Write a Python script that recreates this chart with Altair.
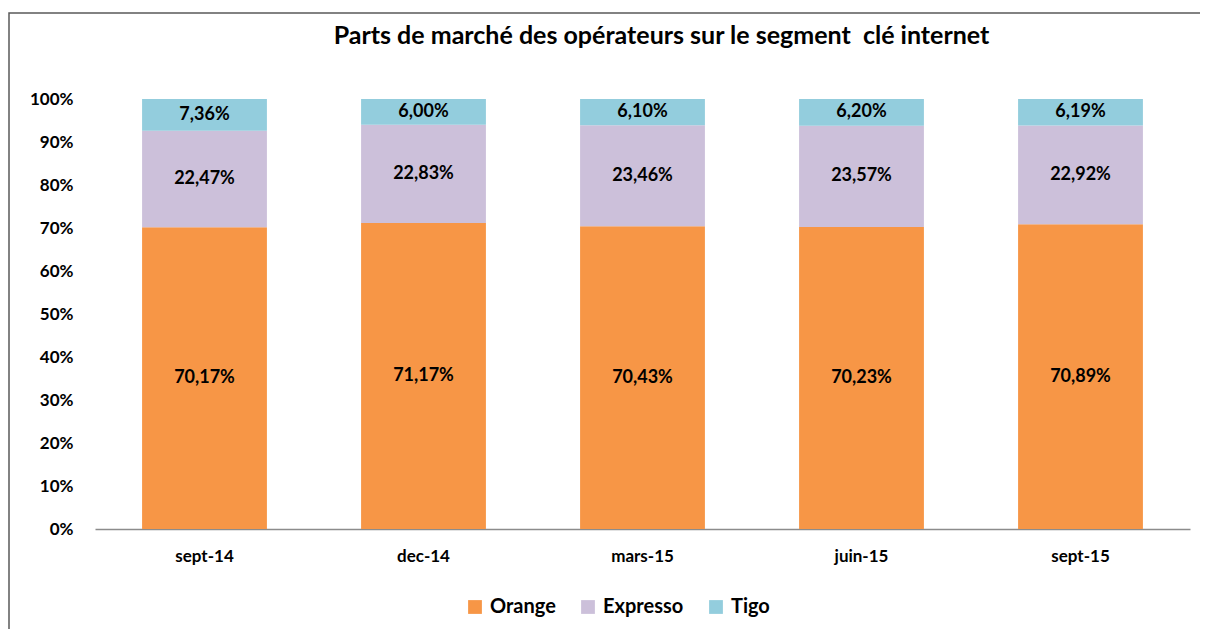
import altair as alt
import pandas as pd

periods = ["sept-14", "dec-14", "mars-15", "juin-15", "sept-15"]
operators = ["Orange", "Expresso", "Tigo"]
orange = [70.17, 71.17, 70.43, 70.23, 70.89]
expresso = [22.47, 22.83, 23.46, 23.57, 22.92]
tigo = [7.36, 6.00, 6.10, 6.20, 6.19]
colors = ["#F79646", "#CCC0DA", "#93CDDD"]
y_ticks = [0, 10, 20, 30, 40, 50, 60, 70, 80, 90, 100]
title_text = "Parts de marché des opérateurs sur le segment\u00a0 clé internet"

rows = []
for i, p in enumerate(periods):
    for k, (op, vals) in enumerate(zip(operators, [orange, expresso, tigo])):
        v = vals[i]
        rows.append({"period": p, "operator": op, "order": k, "value": v,
                     "label": f"{v:.2f}".replace(".", ",") + "%"})
df = pd.DataFrame(rows)

FONT = "Lato"

base = alt.Chart(df).transform_stack(
    stack="value", groupby=["period"], as_=["y0", "y1"],
    sort=[alt.SortField("order", order="ascending")]
).transform_calculate(mid="(datum.y0 + datum.y1) / 2")

x_enc = alt.X("period:N", sort=periods, title=None,
              scale=alt.Scale(paddingInner=0.43, paddingOuter=0.215),
              axis=alt.Axis(labelAngle=0, labelFont=FONT, labelFontWeight="bold",
                            labelFontSize=17, labelColor="black", ticks=False,
                            domainColor="#8c8c8c", domainWidth=1.5, labelPadding=19))

bars = base.mark_bar().encode(
    x=x_enc,
    y=alt.Y("y0:Q", title=None, scale=alt.Scale(domain=[0, 100]),
            axis=alt.Axis(values=y_ticks, labelExpr="datum.value + '%'", grid=False,
                          domain=False, ticks=False, labelFont=FONT,
                          labelFontWeight="bold", labelFontSize=17,
                          labelColor="black", labelPadding=22)),
    y2="y1:Q",
    color=alt.Color("operator:N", sort=operators,
                    scale=alt.Scale(domain=operators, range=colors),
                    legend=alt.Legend(title=None, orient="none", direction="horizontal",
                                      legendX=370, legendY=498, symbolType="square",
                                      symbolSize=190, symbolStrokeWidth=0,
                                      labelFont=FONT, labelFontWeight="bold",
                                      labelFontSize=20, labelColor="black",
                                      columnPadding=22, labelOffset=5)),
)

texts = base.mark_text(font=FONT, fontWeight="bold", fontSize=18, color="black",
                       baseline="middle").encode(
    x=alt.X("period:N", sort=periods),
    y=alt.Y("mid:Q"),
    text="label:N",
)

frame = alt.Chart(pd.DataFrame({"a": [0]})).mark_rect(
    fill=None, stroke="#595959", strokeWidth=1.5).encode(
    x=alt.value(-86), x2=alt.value(1130), y=alt.value(-86), y2=alt.value(560))

chart = alt.layer(frame, bars, texts).properties(
    width=1095, height=430,
    title=alt.TitleParams(title_text,
                          font=FONT, fontSize=25, fontWeight="bold", color="black",
                          anchor="middle", dx=19, offset=-37),
    padding={"left": 87, "top": 91, "right": 10, "bottom": 100},
    autosize=alt.AutoSizeParams(type="none"),
    background="white",
).configure_view(stroke=None)

chart.save("out.html", embed_options={"renderer": "svg", "actions": False})
